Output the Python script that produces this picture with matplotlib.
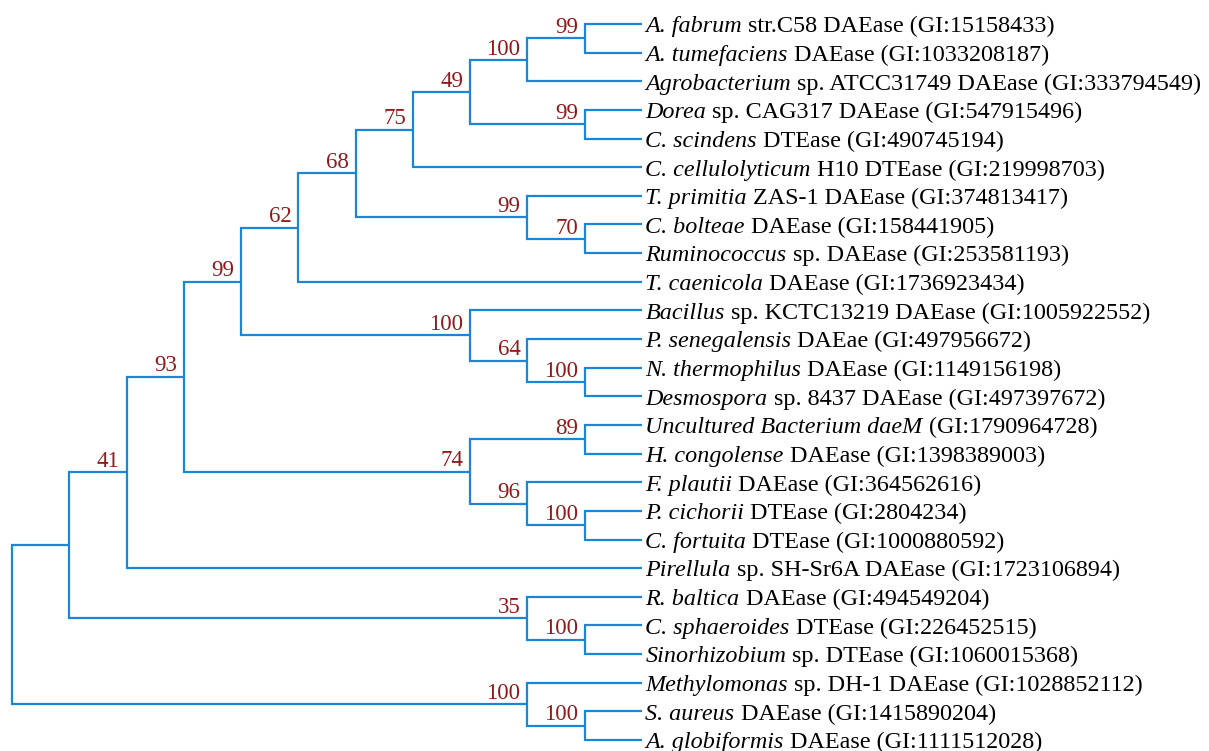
import matplotlib
matplotlib.use("Agg")
import matplotlib.pyplot as plt

plt.rcParams['font.family'] = ['Liberation Serif', 'DejaVu Serif']

# leaf names: italic part, plain part
leaf_italic = [
    "A. fabrum", "A. tumefaciens", "Agrobacterium", "Dorea", "C. scindens",
    "C. cellulolyticum", "T. primitia", "C. bolteae", "Ruminococcus",
    "T. caenicola", "Bacillus", "P. senegalensis", "N. thermophilus",
    "Desmospora", "Uncultured Bacterium daeM", "H. congolense", "F. plautii",
    "P. cichorii", "C. fortuita", "Pirellula", "R. baltica", "C. sphaeroides",
    "Sinorhizobium", "Methylomonas", "S. aureus", "A. globiformis",
]
leaf_plain = [
    " str.C58 DAEase (GI:15158433)", " DAEase (GI:1033208187)",
    " sp. ATCC31749 DAEase (GI:333794549)", " sp. CAG317 DAEase (GI:547915496)",
    " DTEase (GI:490745194)", " H10 DTEase (GI:219998703)",
    " ZAS-1 DAEase (GI:374813417)", " DAEase (GI:158441905)",
    " sp. DAEase (GI:253581193)", " DAEase (GI:1736923434)",
    " sp. KCTC13219 DAEase (GI:1005922552)", " DAEae (GI:497956672)",
    " DAEase (GI:1149156198)", " sp. 8437 DAEase (GI:497397672)",
    " (GI:1790964728)", " DAEase (GI:1398389003)", " DAEase (GI:364562616)",
    " DTEase (GI:2804234)", " DTEase (GI:1000880592)",
    " sp. SH-Sr6A DAEase (GI:1723106894)", " DAEase (GI:494549204)",
    " DTEase (GI:226452515)", " sp. DTEase (GI:1060015368)",
    " sp. DH-1 DAEase (GI:1028852112)", " DAEase (GI:1415890204)",
    " DAEase (GI:1111512028)",
]

# tree topology: (bootstrap, [children]); ints are leaf indices
tree = (None, [
    (None, [
        (41, [
            (93, [
                (99, [
                    (62, [
                        (68, [
                            (75, [
                                (49, [
                                    (100, [(99, [0, 1]), 2]),
                                    (99, [3, 4]),
                                ]),
                                5,
                            ]),
                            (99, [6, (70, [7, 8])]),
                        ]),
                        9,
                    ]),
                    (100, [10, (64, [11, (100, [12, 13])])]),
                ]),
                (74, [(89, [14, 15]), (96, [16, (100, [17, 18])])]),
            ]),
            19,
        ]),
        (35, [20, (100, [21, 22])]),
    ]),
    (100, [23, (100, [24, 25])]),
])

line_color = "#1b85d6"
label_color = "#8f1a1a"


def height(node):
    if isinstance(node, int):
        return 0
    return 1 + max(height(c) for c in node[1])


max_h = height(tree)

fig = plt.figure(figsize=(12.09, 7.51), dpi=100)
ax = fig.add_axes([0, 0, 1, 1])
ax.set_xlim(-12 / 57.27, (1209 - 12) / 57.27)
ax.set_ylim((751 - 24) / 28.64, -24 / 28.64)
ax.axis("off")


def draw(node):
    # returns (x, y) of node
    if isinstance(node, int):
        return max_h, node
    boot, children = node
    x = max_h - height(node)
    pos = [draw(c) for c in children]
    y = sum(p[1] for p in pos) / len(pos)
    for cx, cy in pos:
        ax.plot([x, x, cx], [y, cy, cy], color=line_color, lw=1.6,
                solid_joinstyle="miter", solid_capstyle="butt")
    if boot is not None:
        ax.annotate(str(boot), (x, y), xytext=(-5, 3.8), textcoords="offset points",
                    ha="right", va="baseline", fontsize=16.5, color=label_color)
    return x, y


draw(tree)

for i, (it, pl) in enumerate(zip(leaf_italic, leaf_plain)):
    t = ax.annotate(it, (max_h, i), xytext=(2.5, -6), textcoords="offset points",
                    ha="left", va="baseline", fontsize=17.4, style="italic")
    ax.annotate(pl, xy=(1, 0), xycoords=t, ha="left", va="bottom", fontsize=17.4)

fig.savefig("out.png", dpi=100)
